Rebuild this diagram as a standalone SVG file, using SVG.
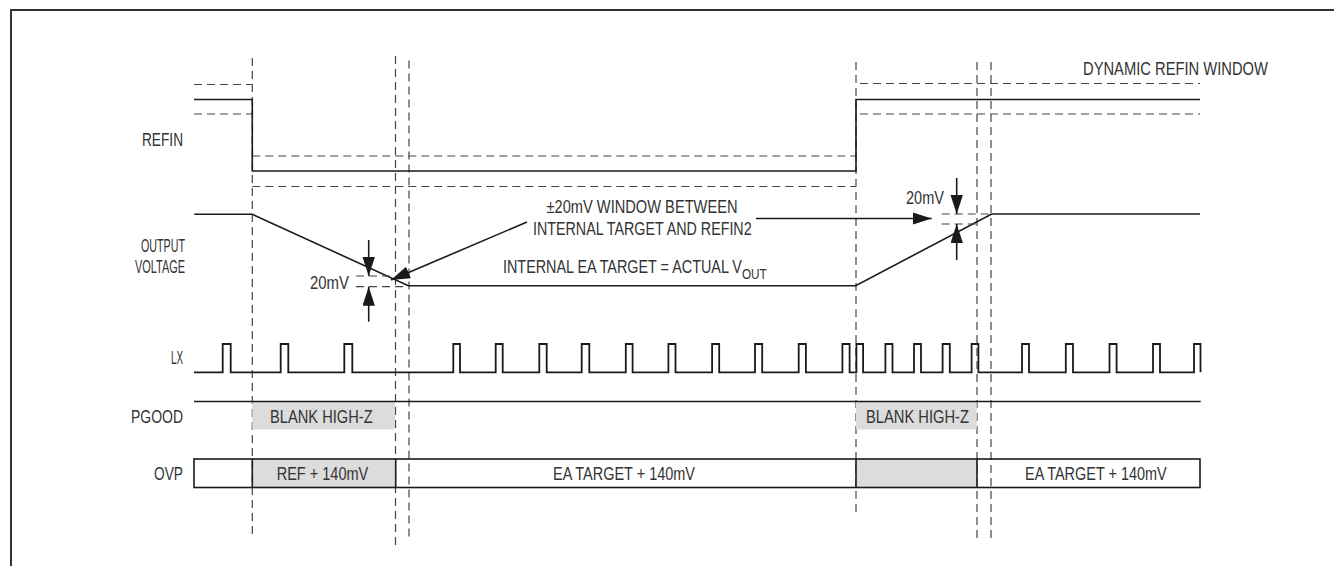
<svg xmlns="http://www.w3.org/2000/svg" width="1334" height="566" viewBox="0 0 1334 566">
<style>
  .frame { stroke:#333; stroke-width:2; fill:none; }
  .dash { stroke:#444; stroke-width:1.2; stroke-dasharray:8 5; fill:none; }
  .wave { stroke:#1a1a1a; stroke-width:1.6; fill:none; }
  .lx { stroke:#1a1a1a; stroke-width:1.8; fill:none; }
  .shade { fill:#dcdcdc; stroke:none; }
  .box { stroke:#1a1a1a; stroke-width:1.6; fill:none; }
  .arrow { stroke:#1a1a1a; stroke-width:1.6; fill:none; marker-end:url(#ah); }
  text { font-family:"Liberation Sans", Arial, sans-serif; font-size:19px; fill:#333; }
  .lbl { text-anchor:end; }
  .mid { text-anchor:middle; }
  .sub { font-size:15.5px; }
</style>
<defs>
  <marker id="ah" markerUnits="userSpaceOnUse" markerWidth="20" markerHeight="13" refX="19" refY="6.2" orient="auto">
    <path d="M0,0 L19,6.2 L0,12.4 z" fill="#1a1a1a"/>
  </marker>
</defs>
<rect width="1334" height="566" fill="#fff"/>
<path class="frame" d="M11,566 V10 H1334"/>

<g id="timing-markers">
  <path class="dash" d="M252.3,58 V538"/>
  <path class="dash" d="M395.5,56 V545"/>
  <path class="dash" d="M409,60.5 V540"/>
  <path class="dash" d="M856,62 V513"/>
  <path class="dash" d="M977,62 V540"/>
  <path class="dash" d="M991,62 V540"/>
</g>

<g id="refin">
  <text class="lbl" x="183" y="145.7" textLength="41" lengthAdjust="spacingAndGlyphs">REFIN</text>
  <path class="dash" d="M194,84.5 H252.3 M194,114 H252.3 M252.3,156 H856 M252.3,186.5 H856 M860,83.5 H1200 M860,114 H1200"/>
  <path class="wave" d="M194,99.5 H252.3 V171 H856 V99.5 H1200"/>
  <text x="1083" y="75" textLength="185" lengthAdjust="spacingAndGlyphs">DYNAMIC REFIN WINDOW</text>
</g>

<g id="output-voltage">
  <text class="lbl" x="185" y="251.5" textLength="44" lengthAdjust="spacingAndGlyphs">OUTPUT</text>
  <text class="lbl" x="185" y="272.5" textLength="50" lengthAdjust="spacingAndGlyphs">VOLTAGE</text>
  <path class="wave" d="M194.3,214.3 H252.3 L408.3,285.7 H855.7 L991.7,214 H1200"/>
  <path class="dash" d="M356,276 H392 M356,286.7 H408 M941.7,214 H991 M941.7,224 H977"/>
  <text x="310" y="289.3" textLength="39" lengthAdjust="spacingAndGlyphs">20mV</text>
  <text x="906" y="204" textLength="38" lengthAdjust="spacingAndGlyphs">20mV</text>
  <text class="mid" x="642" y="213.3" textLength="191" lengthAdjust="spacingAndGlyphs">±20mV WINDOW BETWEEN</text>
  <text class="mid" x="642.3" y="235" textLength="218.7" lengthAdjust="spacingAndGlyphs">INTERNAL TARGET AND REFIN2</text>
  <text x="503" y="273.3" textLength="263.7" lengthAdjust="spacingAndGlyphs">INTERNAL EA TARGET = ACTUAL V<tspan class="sub" dy="6">OUT</tspan></text>
</g>

<g id="lx">
  <text class="lbl" x="183" y="364" textLength="12" lengthAdjust="spacingAndGlyphs">LX</text>
  <path class="lx" d="M194,372.3 H222.7 V344 H230.7 V372.3 H280.7 V344 H288.3 V372.3 H344.3 V344 H352.3 V372.3 H453.3 V344 H460 V372.3 H495.7 V344 H502.7 V372.3 H539.3 V344 H546.7 V372.3 H581.7 V344 H589.3 V372.3 H625.8 V344 H632.6 V372.3 H668.4 V344 H675.5 V372.3 H712.1 V344 H719.2 V372.3 H755 V344 H762.2 V372.3 H798.7 V344 H805.9 V372.3 H842.4 V344 H849.6 V372.3 H856.4 V344 H863.1 V372.3 H885.4 V344 H892.5 V372.3 H914 V344 H921 V372.3 H942.6 V344 H949.8 V372.3 H971.6 V344 H978.4 V372.3 H1022 V344 H1029 V372.3 H1065.8 V344 H1073 V372.3 H1109.5 V344 H1116.6 V372.3 H1153 V344 H1160 V372.3 H1194 V344 H1200.5 V372.3"/>
</g>

<g id="pgood">
  <text class="lbl" x="183" y="422.5" textLength="52" lengthAdjust="spacingAndGlyphs">PGOOD</text>
  <rect class="shade" x="252.3" y="402" width="142.7" height="27.5"/>
  <rect class="shade" x="856" y="402" width="120.7" height="27.5"/>
  <path class="wave" d="M194,401.5 H1200.7"/>
  <text x="270" y="422.5" textLength="102.7" lengthAdjust="spacingAndGlyphs">BLANK HIGH-Z</text>
  <text x="866" y="422.5" textLength="103" lengthAdjust="spacingAndGlyphs">BLANK HIGH-Z</text>
</g>

<g id="ovp">
  <text class="lbl" x="183" y="480" textLength="29" lengthAdjust="spacingAndGlyphs">OVP</text>
  <rect class="shade" x="252.3" y="459" width="143.4" height="28.5"/>
  <rect class="shade" x="856" y="459" width="121" height="28.5"/>
  <rect class="box" x="194" y="459" width="1006" height="28.5"/>
  <path class="box" d="M252.3,459 V487.5 M395.7,459 V487.5 M856,459 V487.5 M977,459 V487.5"/>
  <text x="276.7" y="480" textLength="91.6" lengthAdjust="spacingAndGlyphs">REF + 140mV</text>
  <text x="553" y="480" textLength="142" lengthAdjust="spacingAndGlyphs">EA TARGET + 140mV</text>
  <text x="1025" y="480" textLength="141.7" lengthAdjust="spacingAndGlyphs">EA TARGET + 140mV</text>
</g>

<g id="connectors">
  <path class="arrow" d="M368.7,240 V276"/>
  <path class="arrow" d="M368.7,321.7 V286.7"/>
  <path class="arrow" d="M956.7,178 V214"/>
  <path class="arrow" d="M956.7,260 V224"/>
  <path class="arrow" d="M527,222 L391,280"/>
  <path class="arrow" d="M756,218.5 H931.7"/>
</g>
</svg>
